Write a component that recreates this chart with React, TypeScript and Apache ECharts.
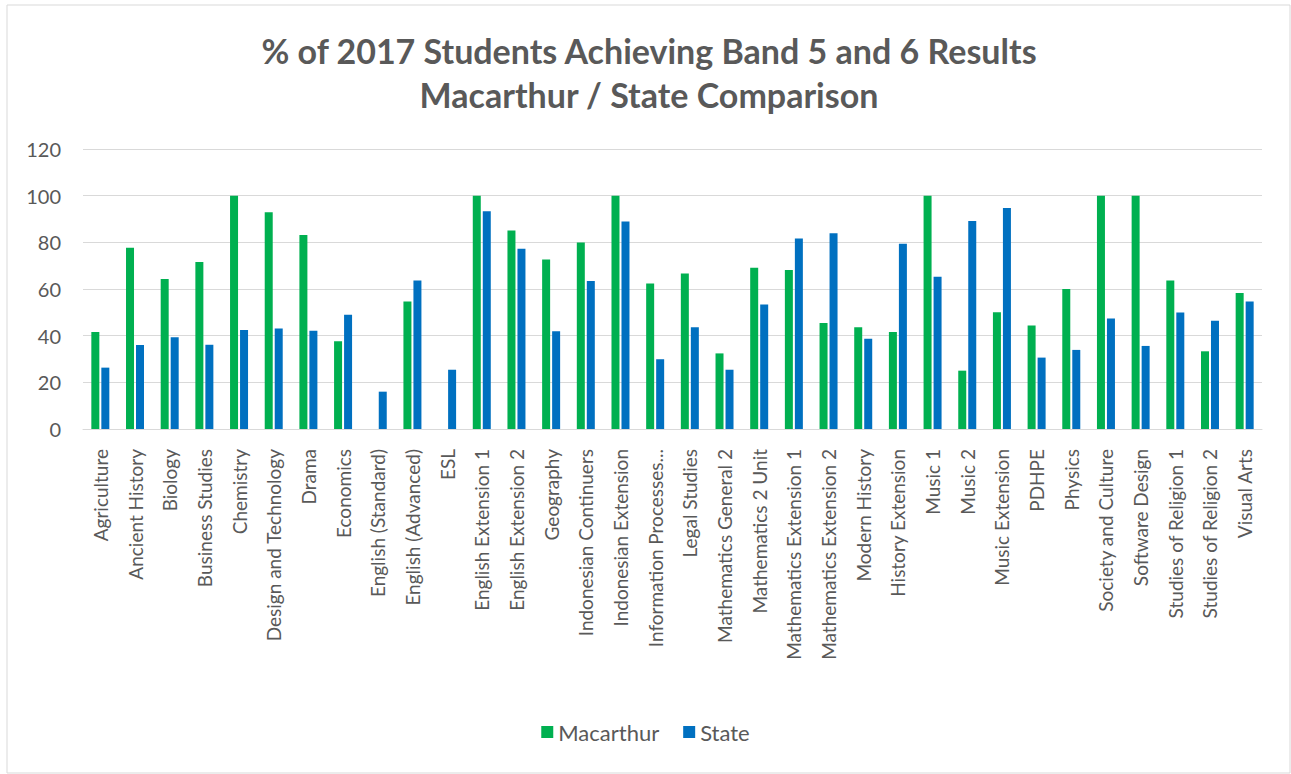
import React, { useEffect, useRef } from "react";
import * as echarts from "echarts";

const titleLines = [
  "% of 2017 Students Achieving Band 5 and 6 Results",
  "Macarthur / State Comparison",
];

const categories = [
  "Agriculture", "Ancient History", "Biology", "Business Studies", "Chemistry",
  "Design and Technology", "Drama", "Economics", "English (Standard)", "English (Advanced)",
  "ESL", "English Extension 1", "English Extension 2", "Geography", "Indonesian Continuers",
  "Indonesian Extension", "Information Processes...", "Legal Studies", "Mathematics General 2",
  "Mathematics 2 Unit", "Mathematics Extension 1", "Mathematics Extension 2", "Modern History",
  "History Extension", "Music 1", "Music 2", "Music Extension", "PDHPE", "Physics",
  "Society and Culture", "Software Design", "Studies of Religion 1", "Studies of Religion 2",
  "Visual Arts",
];

const macarthur = [
  41.6, 77.7, 64.3, 71.6, 100, 92.9, 83.1, 37.6, null, 54.6,
  null, 100, 85.1, 72.6, 79.9, 100, 62.4, 66.6, 32.4, 69.1,
  68.1, 45.4, 43.6, 41.6, 100, 25, 50, 44.4, 60, 100,
  100, 63.6, 33.3, 58.3,
];

const state = [
  26.3, 36, 39.3, 36.1, 42.4, 43.1, 42.1, 49, 16, 63.6,
  25.4, 93.3, 77.3, 41.9, 63.4, 88.9, 29.9, 43.6, 25.4, 53.4,
  81.6, 83.9, 38.7, 79.4, 65.3, 89.1, 94.7, 30.6, 33.9, 47.4,
  35.6, 49.9, 46.4, 54.6,
];

const yTicks = { min: 0, max: 120, interval: 20 };

const FONT = "Lato, 'Open Sans', sans-serif";
const GREY = "#595959";

export default function App() {
  const ref = useRef<HTMLDivElement>(null);
  useEffect(() => {
    if (!ref.current) return;
    const chart = echarts.init(ref.current, null, { renderer: "svg" });
    chart.setOption({
      animation: false,
      backgroundColor: "#ffffff",
      graphic: [
        {
          type: "rect",
          shape: { x: 7, y: 5, width: 1283, height: 768 },
          style: { fill: "none", stroke: "#d9d9d9", lineWidth: 1 },
          silent: true,
          z: -1,
        },
        ...titleLines.map((t, i) => ({
          type: "text",
          x: 649,
          y: 50 + i * 44,
          silent: true,
          style: {
            text: t,
            fontFamily: FONT,
            fontSize: 34,
            fontWeight: "bold",
            fill: GREY,
            textAlign: "center",
            textVerticalAlign: "middle",
          },
        })),
      ],
      legend: {
        bottom: 26,
        left: "center",
        itemWidth: 12,
        itemHeight: 12,
        itemGap: 24,
        icon: "rect",
        textStyle: { fontFamily: FONT, fontSize: 22, color: GREY },
        data: ["Macarthur", "State"],
      },
      grid: { left: 83, right: 29, top: 149, bottom: 345, containLabel: false },
      xAxis: {
        type: "category",
        data: categories,
        axisLine: { lineStyle: { color: "#d9d9d9" } },
        axisTick: { show: false },
        axisLabel: {
          rotate: 90,
          interval: 0,
          margin: 20,
          fontFamily: FONT,
          fontSize: 19,
          color: GREY,
        },
      },
      yAxis: {
        type: "value",
        min: yTicks.min,
        max: yTicks.max,
        interval: yTicks.interval,
        axisLine: { show: false },
        axisTick: { show: false },
        splitLine: { lineStyle: { color: "#d9d9d9", width: 1 } },
        axisLabel: { fontFamily: FONT, fontSize: 20, color: GREY, margin: 22 },
      },
      series: [
        {
          name: "Macarthur",
          type: "bar",
          data: macarthur,
          barWidth: 8,
          barGap: "25%",
          itemStyle: { color: "#00B050" },
        },
        {
          name: "State",
          type: "bar",
          data: state,
          barWidth: 8,
          itemStyle: { color: "#0070C0" },
        },
      ],
    });
    return () => chart.dispose();
  }, []);
  return (
    <div
      ref={ref}
      style={{ position: "fixed", left: 0, top: 0, width: 1291, height: 774 }}
    />
  );
}
